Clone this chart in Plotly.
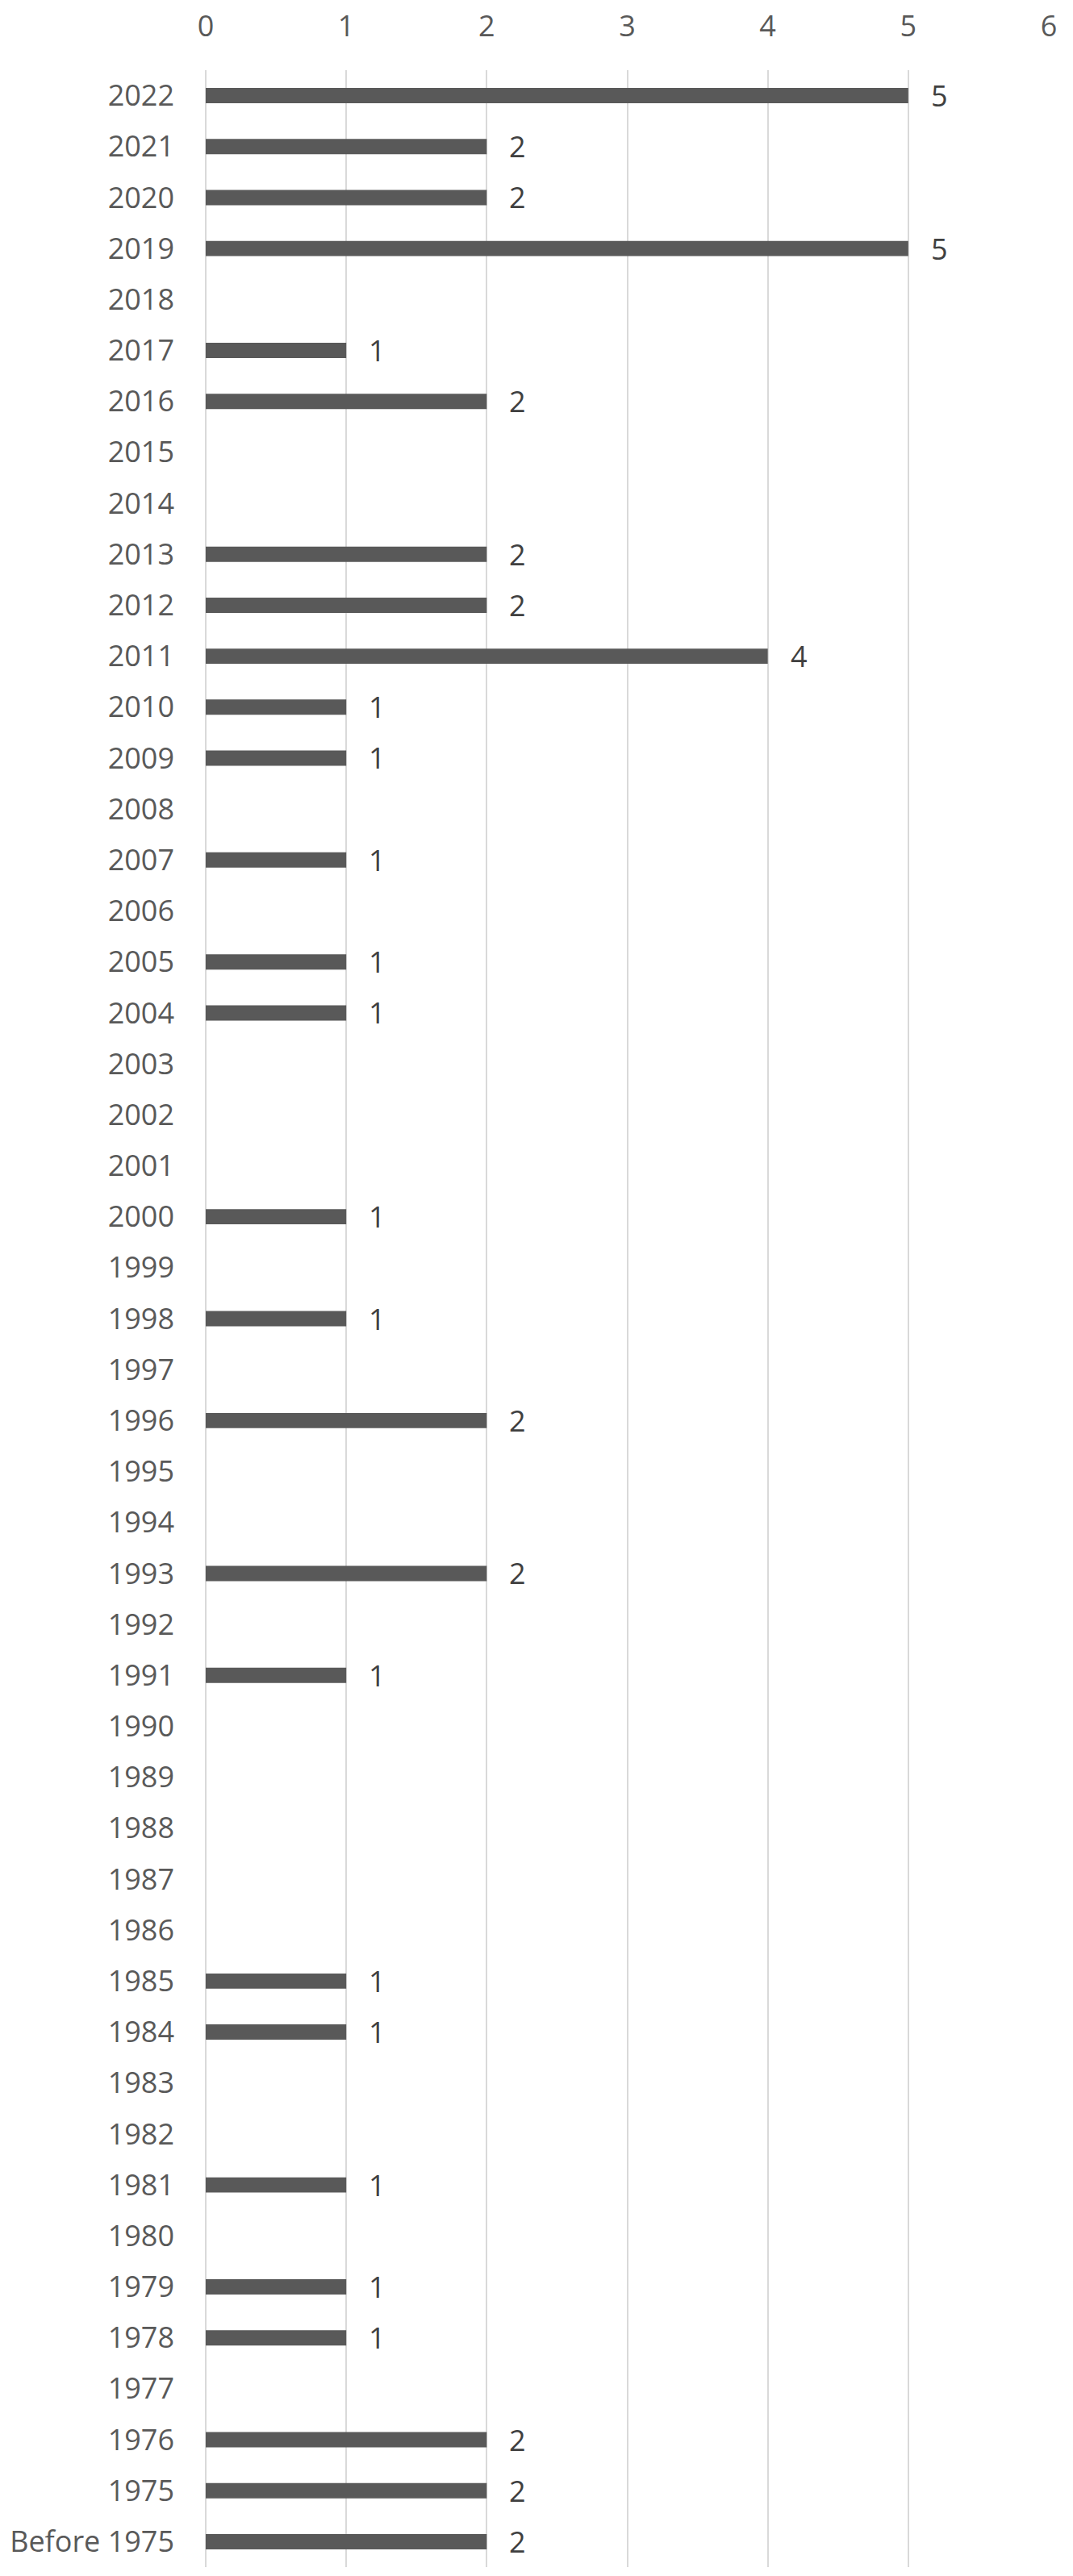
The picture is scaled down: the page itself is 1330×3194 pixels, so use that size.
import plotly.graph_objects as go

years = ["2022", "2021", "2020", "2019", "2018", "2017", "2016", "2015", "2014",
         "2013", "2012", "2011", "2010", "2009", "2008", "2007", "2006", "2005",
         "2004", "2003", "2002", "2001", "2000", "1999", "1998", "1997", "1996",
         "1995", "1994", "1993", "1992", "1991", "1990", "1989", "1988", "1987",
         "1986", "1985", "1984", "1983", "1982", "1981", "1980", "1979", "1978",
         "1977", "1976", "1975", "Before 1975"]
counts = [5, 2, 2, 5, 0, 1, 2, 0, 0,
          2, 2, 4, 1, 1, 0, 1, 0, 1,
          1, 0, 0, 0, 1, 0, 1, 0, 2,
          0, 0, 2, 0, 1, 0, 0, 0, 0,
          0, 1, 1, 0, 0, 1, 0, 1, 1,
          0, 2, 2, 2]

x_ticks = [0, 1, 2, 3, 4, 5, 6]

FONT = "Open Sans"
GRID = "#d9d9d9"

fig = go.Figure()
fig.add_trace(go.Bar(
    x=counts,
    y=years,
    orientation="h",
    width=0.3,
    marker=dict(color="#595959", line=dict(width=0)),
    hoverinfo="x+y",
))

# value labels sit a bit to the right of each bar end, empty years get none
# (y given as category index: year strings would be read as numbers)
for i, count in enumerate(counts):
    if count == 0:
        continue
    fig.add_annotation(
        x=count, y=i, text=str(count),
        xanchor="left", yanchor="middle", xshift=26,
        showarrow=False,
        font=dict(family=FONT, size=36, color="#404040"),
    )

# margins allow for the page's 8px body margin
fig.update_layout(
    width=1330,
    height=3194,
    margin=dict(l=247, r=38, t=79, b=19),
    paper_bgcolor="white",
    plot_bgcolor="white",
    showlegend=False,
    font=dict(family=FONT, size=36, color="#595959"),
    xaxis=dict(
        side="top",
        range=[0, 6],
        tickvals=x_ticks,
        showgrid=True,
        gridcolor=GRID,
        gridwidth=2,
        zeroline=True,
        zerolinecolor=GRID,
        zerolinewidth=2,
        showline=False,
        ticks="",
        ticklabelstandoff=34,
        automargin=False,
        tickfont=dict(family=FONT, size=36, color="#595959"),
    ),
    yaxis=dict(
        type="category",
        categoryorder="array",
        categoryarray=years,
        range=[len(years) - 0.5, -0.5],
        showgrid=False,
        zeroline=False,
        showline=False,
        ticks="",
        ticklabelstandoff=38,
        automargin=False,
        tickfont=dict(family=FONT, size=36, color="#595959"),
    ),
)

fig.write_html("out.html")
